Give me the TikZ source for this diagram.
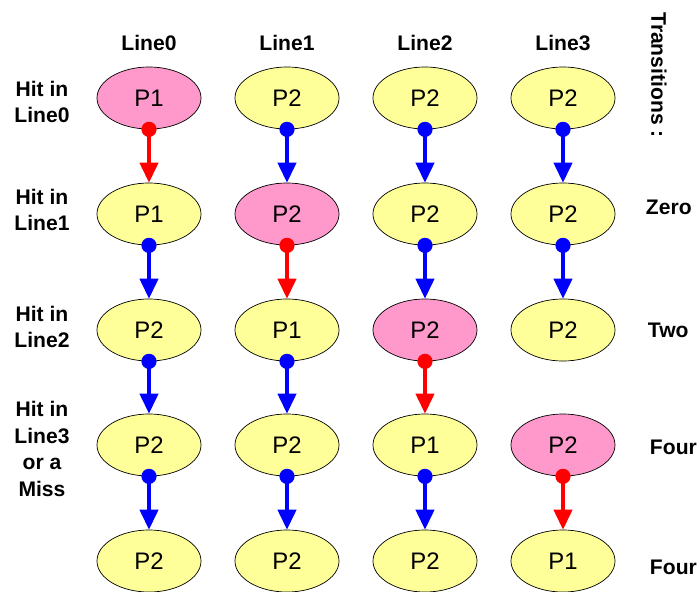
\documentclass[tikz,border=0pt]{standalone}
\usepackage{fontspec}
\setmainfont{Liberation Sans}
\usetikzlibrary{arrows.meta,shapes.geometric}
\definecolor{cellyellow}{RGB}{255,255,153}
\definecolor{cellpink}{RGB}{255,153,204}
\def\headfont{\fontsize{15}{19}\selectfont\bfseries}

\begin{document}
\begin{tikzpicture}[x=0.025cm, y=-0.025cm,
	cell/.style={ellipse, draw=black, line width=0.5pt, minimum width=2.6cm, minimum height=1.55cm, inner sep=0pt, font=\fontsize{17}{20}\selectfont},
	old/.style={cell, fill=cellyellow},
	hit/.style={cell, fill=cellpink},
	head/.style={font=\headfont, align=center},
	move/.style={line width=2.2pt, -{Triangle[length=5mm, width=4.6mm]}}]
			%%%%% START %%%%%
			\useasboundingbox (0, 0) rectangle (698, 592);
			
			% column heads
			\node[head] (h0) at (149, 43) {Line0};
			\node[head] (h1) at (287, 43) {Line1};
			\node[head] (h2) at (425, 43) {Line2};
			\node[head] (h3) at (563, 43) {Line3};
			\node[head, rotate=-90] (tr) at (659, 75) {Transitions :};
			
			% row heads
			\node[head] (r0) at (42, 102) {Hit in\\Line0};
			\node[head] (r1) at (42, 210) {Hit in\\Line1};
			\node[head] (r2) at (42, 327) {Hit in\\Line2};
			\node[head] (r3) at (42, 449) {Hit in\\Line3\\or a\\Miss};
			
			% transition counts
			\node[head, anchor=west] (t1) at (641, 207) {Zero};
			\node[head, anchor=west] (t2) at (643, 330) {Two};
			\node[head, anchor=west] (t3) at (645, 447) {Four};
			\node[head, anchor=west] (t4) at (645, 567) {Four};
			
			% row 0
			\node[hit] (p00) at (149, 98) {P1};
			\node[old] (p01) at (287, 98) {P2};
			\node[old] (p02) at (425, 98) {P2};
			\node[old] (p03) at (563, 98) {P2};
			
			% row 1
			\node[old] (p10) at (149, 214) {P1};
			\node[hit] (p11) at (287, 214) {P2};
			\node[old] (p12) at (425, 214) {P2};
			\node[old] (p13) at (563, 214) {P2};
			
			% row 2
			\node[old] (p20) at (149, 330) {P2};
			\node[old] (p21) at (287, 330) {P1};
			\node[hit] (p22) at (425, 330) {P2};
			\node[old] (p23) at (563, 330) {P2};
			
			% row 3
			\node[old] (p30) at (149, 445) {P2};
			\node[old] (p31) at (287, 445) {P2};
			\node[old] (p32) at (425, 445) {P1};
			\node[hit] (p33) at (563, 445) {P2};
			
			% row 4
			\node[old] (p40) at (149, 561) {P2};
			\node[old] (p41) at (287, 561) {P2};
			\node[old] (p42) at (425, 561) {P2};
			\node[old] (p43) at (563, 561) {P1};
			
			% moves down, red out of the hit line
			\draw[move, red] (p00.south) -- (p10.north);
			\draw[move, blue] (p01.south) -- (p11.north);
			\draw[move, blue] (p02.south) -- (p12.north);
			\draw[move, blue] (p03.south) -- (p13.north);
			
			\draw[move, blue] (p10.south) -- (p20.north);
			\draw[move, red] (p11.south) -- (p21.north);
			\draw[move, blue] (p12.south) -- (p22.north);
			\draw[move, blue] (p13.south) -- (p23.north);
			
			\draw[move, blue] (p20.south) -- (p30.north);
			\draw[move, blue] (p21.south) -- (p31.north);
			\draw[move, red] (p22.south) -- (p32.north);
			
			\draw[move, blue] (p30.south) -- (p40.north);
			\draw[move, blue] (p31.south) -- (p41.north);
			\draw[move, blue] (p32.south) -- (p42.north);
			\draw[move, red] (p33.south) -- (p43.north);
			
			% dots at the tails
			\fill[red] (p00.south) circle (1.9mm);
			\fill[blue] (p01.south) circle (1.9mm);
			\fill[blue] (p02.south) circle (1.9mm);
			\fill[blue] (p03.south) circle (1.9mm);
			\fill[blue] (p10.south) circle (1.9mm);
			\fill[red] (p11.south) circle (1.9mm);
			\fill[blue] (p12.south) circle (1.9mm);
			\fill[blue] (p13.south) circle (1.9mm);
			\fill[blue] (p20.south) circle (1.9mm);
			\fill[blue] (p21.south) circle (1.9mm);
			\fill[red] (p22.south) circle (1.9mm);
			\fill[blue] (p30.south) circle (1.9mm);
			\fill[blue] (p31.south) circle (1.9mm);
			\fill[blue] (p32.south) circle (1.9mm);
			\fill[red] (p33.south) circle (1.9mm);
			
			%%%%% END %%%%%
		\end{tikzpicture}
\end{document}
